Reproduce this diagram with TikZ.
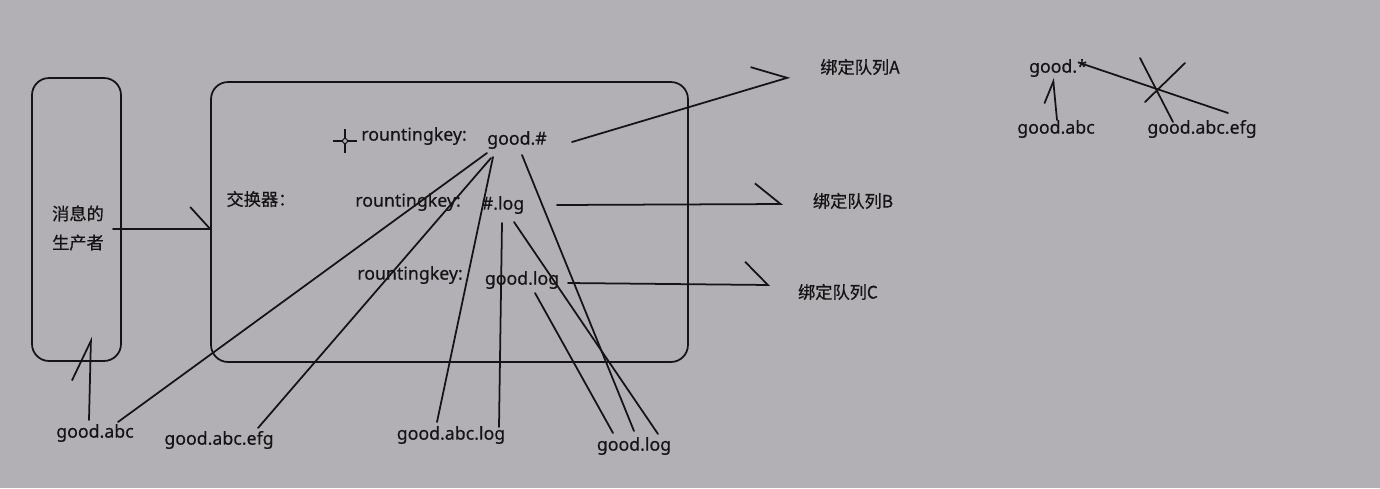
\documentclass[tikz,border=0pt]{standalone}
\usepackage{fontspec}
\setmainfont{Noto Sans}[FakeBold=0.4]
\newfontfamily\cjk{Noto Sans CJK SC}[FakeBold=0.6]
\usetikzlibrary{arrows.meta}
\definecolor{slideBack}{HTML}{B3B0B5}
\definecolor{penInk}{HTML}{141414}

\begin{document}
\begin{tikzpicture}[x=0.02cm, y=-0.02cm,
  wire/.style={draw=penInk, line width=1pt, line cap=round},
  barb/.style 2 args={-{Straight Barb[left, length=#1, width=#2]}},
  frame/.style={draw=penInk, line width=1pt, rounded corners=0.34cm, inner sep=0pt},
  key/.style={text=penInk, inner sep=0pt, font=\fontsize{10.1}{12}\selectfont},
  cn/.style={text=penInk, inner sep=0pt, font=\cjk\fontsize{9.8}{16.5}\selectfont}
]
\fill[slideBack] (0,0) rectangle (1380,488);
\useasboundingbox (0,0) rectangle (1380,488);

\node[frame, minimum width=1.78cm, minimum height=5.66cm] (prod) at (76.5,219.5) {};
\node[cn, align=center] (prodtext) at (78,228) {消息的\\生产者};
\node[frame, minimum width=9.54cm, minimum height=5.6cm] (exch) at (449.5,222) {};
\node[cn] (exchtext) at (261,199) {交换器：};

\draw[penInk, line width=0.8pt] (333,141) -- (357,141) (345,129) -- (345,153);
\draw[penInk, fill=slideBack, line width=0.6pt] (345,141) circle (0.05cm);

\node[key] (rkA) at (414,136) {rountingkey:};
\node[key] (rkB) at (408,202) {rountingkey:};
\node[key] (rkC) at (410,275) {rountingkey:};
\node[key] (keyA) at (517,140) {good.\#};
\node[key] (keyB) at (503,205) {\#.log};
\node[key] (keyC) at (522,280) {good.log};

\node[cn] (queueA) at (860,67) {绑定队列A};
\node[cn] (queueB) at (853,201) {绑定队列B};
\node[cn] (queueC) at (838,292) {绑定队列C};

\node[key] (msgA) at (95,433) {good.abc};
\node[key] (msgB) at (219,440) {good.abc.efg};
\node[key] (msgC) at (451,435) {good.abc.log};
\node[key] (msgD) at (634,446) {good.log};

\node[key] (starKey) at (1058,68) {good.*};
\node[key] (starOne) at (1056,129) {good.abc};
\node[key] (starTwo) at (1202,129) {good.abc.efg};

\draw[wire, barb={0.4cm}{0.88cm}] ([shift={(36.5,9.5)}]prod.center) -- ([shift={(2,7)}]exch.west);
\draw[wire, barb={0.8cm}{0.72cm}] ([shift={(-6,-13)}]msgA.center) -- ([shift={(14.5,-25)}]prod.south);
\draw[wire, barb={0.64cm}{0.83cm}] ([shift={(55,2)}]keyA.center) -- ([shift={(-70,10)}]queueA.center);
\draw[wire, barb={0.51cm}{0.83cm}] ([shift={(54,0)}]keyB.center) -- ([shift={(-70,3)}]queueB.center);
\draw[wire, barb={0.46cm}{0.92cm}] ([shift={(46,3)}]keyC.center) -- ([shift={(-68,-7)}]queueC.center);

\draw[wire] ([shift={(-30,13)}]keyA.center) -- ([shift={(23,-11)}]msgA.center);
\draw[wire] ([shift={(-26,18)}]keyA.center) -- ([shift={(39,-12)}]msgB.center);
\draw[wire] ([shift={(-24,17)}]keyA.center) -- ([shift={(-14,-13)}]msgC.center);
\draw[wire] ([shift={(5,15)}]keyA.center) -- ([shift={(0,-15)}]msgD.center);
\draw[wire] ([shift={(-1,18)}]keyB.center) -- ([shift={(48,-8)}]msgC.center);
\draw[wire] ([shift={(11,17)}]keyB.center) -- ([shift={(24,-12)}]msgD.center);
\draw[wire] ([shift={(13,13)}]keyC.center) -- ([shift={(-21,-13)}]msgD.center);

\draw[wire, barb={0.42cm}{0.44cm}] ([shift={(1,-9)}]starOne.center) -- ([shift={(-5,10)}]starKey.center);
\draw[wire] ([shift={(22,-5)}]starKey.center) -- ([shift={(26,-16)}]starTwo.center);
\draw[wire] (1140,58) -- (1173,122) (1145,102) -- (1185,63);
\end{tikzpicture}
\end{document}
